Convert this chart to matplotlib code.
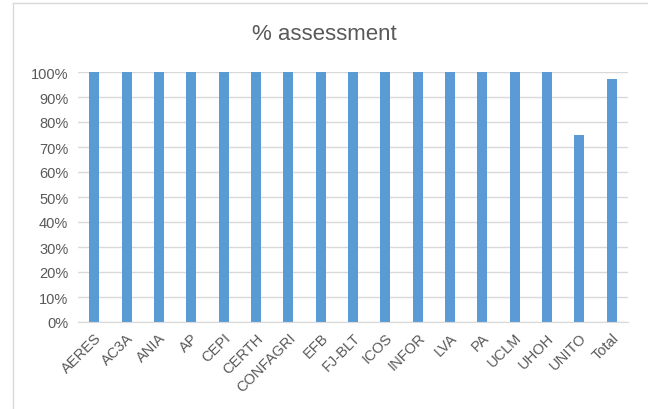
import matplotlib
matplotlib.use("Agg")
import matplotlib.pyplot as plt
from matplotlib.lines import Line2D
from matplotlib.ticker import PercentFormatter

categories = ["AERES", "AC3A", "ANIA", "AP", "CEPI", "CERTH", "CONFAGRI", "EFB",
              "FJ-BLT", "ICOS", "INFOR", "LVA", "PA", "UCLM", "UHOH", "UNITO", "Total"]
values = [100, 100, 100, 100, 100, 100, 100, 100, 100, 100, 100, 100, 100, 100, 100, 75, 97.2]
yticks = [0, 10, 20, 30, 40, 50, 60, 70, 80, 90, 100]

plt.rcParams['font.family'] = ['Liberation Sans', 'DejaVu Sans']
fig = plt.figure(figsize=(6.48, 4.10), dpi=100)
ax = fig.add_axes([78/648, 1-323/410, 550/648, 250/410])

x = range(len(categories))
ax.bar(x, values, width=0.31, color="#5B9BD5", zorder=3)
ax.set_xlim(-0.5, len(categories)-0.5)
ax.set_ylim(0, 100)
ax.set_yticks(yticks)
ax.yaxis.set_major_formatter(PercentFormatter(decimals=0))
ax.set_xticks(list(x))
ax.set_xticklabels(categories, rotation=45, ha="right", rotation_mode="anchor")
ax.tick_params(axis="both", length=0, colors="#595959", labelsize=10.5)
ax.tick_params(axis="x", pad=6)
ax.tick_params(axis="y", pad=7)
ax.grid(axis="y", color="#D9D9D9", linewidth=1, zorder=0)
for s in ["top", "right", "left"]:
    ax.spines[s].set_visible(False)
ax.spines["bottom"].set_color("#D9D9D9")
ax.spines["bottom"].set_zorder(4)

fig.text(0.5, 1-35/410, "% assessment", ha="center", va="center", fontsize=16, color="#595959")

# outer chart border (left and top visible)
fig.add_artist(Line2D([13/648, 13/648], [0, 1-4/410], transform=fig.transFigure, color="#D9D9D9", linewidth=1))
fig.add_artist(Line2D([13/648, 1], [1-4/410, 1-4/410], transform=fig.transFigure, color="#D9D9D9", linewidth=1))

fig.savefig("out.png", dpi=100)
